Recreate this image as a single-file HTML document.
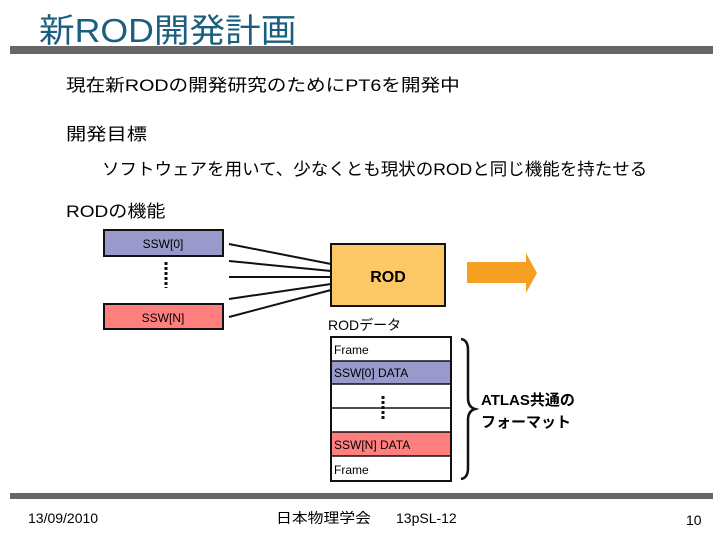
<!DOCTYPE html>
<html><head><meta charset="utf-8"><style>
body{margin:0;width:720px;height:540px;background:#fff;position:relative;overflow:hidden;font-family:"Liberation Sans","Noto Sans CJK JP",sans-serif;}
.t{position:absolute;white-space:nowrap;transform-origin:left center;}
</style></head><body>
<div class="t" style="left:39px;top:4px;font-size:33px;color:#1a5f80;transform:scaleX(1.08);">新ROD開発計画</div>
<div style="position:absolute;left:10px;top:46px;width:703px;height:8px;background:#666;"></div>
<div class="t" style="left:66px;top:71px;font-size:17px;transform:scaleX(1.155);">現在新RODの開発研究のためにPT6を開発中</div>
<div class="t" style="left:66px;top:120px;font-size:17px;transform:scaleX(1.19);">開発目標</div>
<div class="t" style="left:102px;top:155px;font-size:17px;transform:scaleX(1.03);">ソフトウェアを用いて、少なくとも現状のRODと同じ機能を持たせる</div>
<div class="t" style="left:66px;top:197px;font-size:17px;transform:scaleX(1.12);">RODの機能</div>
<svg width="720" height="540" style="position:absolute;left:0;top:0" font-family="Liberation Sans, Noto Sans CJK JP, sans-serif">
<rect x="104" y="230" width="119" height="26" fill="#9999cc" stroke="#111" stroke-width="2"/>
<text x="163" y="248" font-size="12" text-anchor="middle">SSW[0]</text>
<rect x="104" y="304" width="119" height="25" fill="#ff7f7f" stroke="#111" stroke-width="2"/>
<text x="163" y="322" font-size="12" text-anchor="middle">SSW[N]</text>
<line x1="166" y1="262" x2="166" y2="288" stroke="#111" stroke-width="3" stroke-dasharray="3,2"/>
<g stroke="#111" stroke-width="2">
<line x1="229" y1="244" x2="331" y2="264"/>
<line x1="229" y1="261" x2="331" y2="271"/>
<line x1="229" y1="277" x2="331" y2="277"/>
<line x1="229" y1="299" x2="331" y2="284"/>
<line x1="229" y1="317" x2="331" y2="290"/>
</g>
<rect x="331" y="244" width="114" height="62" fill="#fcc866" stroke="#111" stroke-width="2"/>
<text x="388" y="282" font-size="16" font-weight="bold" text-anchor="middle">ROD</text>
<polygon points="467,262 526,262 526,253 537,273 526,293 526,283 467,283" fill="#f5a020"/>
<text x="328" y="330" font-size="14">RODデータ</text>
<rect x="331" y="337" width="120" height="24" fill="#fff"/>
<rect x="331" y="361" width="120" height="23" fill="#9999cc"/>
<rect x="331" y="432" width="120" height="24" fill="#ff7f7f"/>
<g stroke="#111" stroke-width="1.5">
<line x1="331" y1="361" x2="451" y2="361"/><line x1="331" y1="384" x2="451" y2="384"/>
<line x1="331" y1="408" x2="451" y2="408"/><line x1="331" y1="432" x2="451" y2="432"/>
<line x1="331" y1="456" x2="451" y2="456"/>
</g>
<rect x="331" y="337" width="120" height="144" fill="none" stroke="#111" stroke-width="2"/>
<g font-size="12">
<text x="334" y="354">Frame</text>
<text x="334" y="377">SSW[0]  DATA</text>
<text x="334" y="449">SSW[N]  DATA</text>
<text x="334" y="474">Frame</text>
</g>
<line x1="383" y1="396" x2="383" y2="419" stroke="#111" stroke-width="3" stroke-dasharray="3,2"/>
<path d="M461,339 Q468,340 468,350 L468,398 Q468,407 475,409 Q468,411 468,420 L468,468 Q468,478 461,479" fill="none" stroke="#111" stroke-width="2.5"/>
<text x="481" y="405" font-size="15" font-weight="bold">ATLAS共通の</text>
<text x="481" y="427" font-size="15" font-weight="bold">フォーマット</text>
</svg>
<div style="position:absolute;left:10px;top:493px;width:703px;height:6px;background:#666;"></div>
<div class="t" style="left:28px;top:510px;font-size:14px;">13/09/2010</div>
<div class="t" style="left:276px;top:508px;font-size:14px;transform:scaleX(1.13);">日本物理学会</div>
<div class="t" style="left:396px;top:510px;font-size:14px;">13pSL-12</div>
<div class="t" style="left:686px;top:512px;font-size:14px;">10</div>
</body></html>
